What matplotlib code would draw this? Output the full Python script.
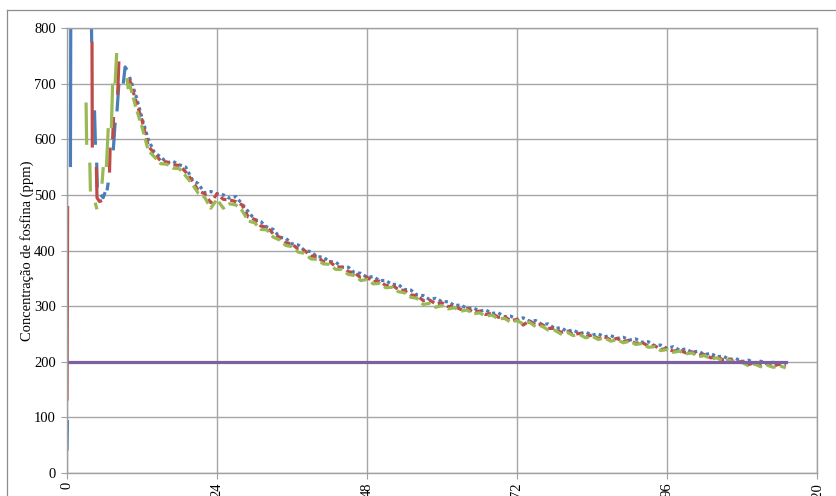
import numpy as np
import matplotlib
matplotlib.use('Agg')
import matplotlib.pyplot as plt
from matplotlib.lines import Line2D

nan = np.nan

# first hours (h, ppm) -- nan marks a break in the record
blue_early_t = [0.0, 0.08, nan, 0.55, 0.62, 3.8, 3.95, nan, 4.4, 4.55, nan, 4.75, 4.85, nan,
                5.4, 5.8, 6.1, nan, 6.4, 6.6, nan, 7.4, 7.7, nan, 8.0, 8.3, nan, 9.0, 9.3, 9.6]
blue_early = [40, 95, nan, 550, 900, 900, 774, nan, 652, 590, nan, 558, 513, nan,
              500, 495, 505, nan, 508, 522, nan, 580, 630, nan, 650, 700, nan, 700, 730, 725]

red_early_t = [0.0, 0.1, nan, 4.0, 4.05, nan, 4.7, 4.8, 5.2, 5.6, nan, 6.8, 6.9, nan,
               7.3, 7.45, nan, 8.1, 8.3]
red_early = [130, 480, nan, 775, 585, nan, 550, 495, 488, 490, nan, 540, 585, nan,
             600, 640, nan, 680, 740]

green_early_t = [3.05, 3.15, nan, 3.65, 3.75, nan, 4.5, 4.8, nan, 5.6, 5.8, nan, 6.3, 6.6, nan,
                 7.1, 7.3, nan, 7.7, 7.95, nan, 9.6, 9.8]
green_early = [666, 590, nan, 558, 506, nan, 486, 474, nan, 520, 550, nan, 550, 620, nan,
               620, 700, nan, 700, 755, nan, 710, 690]

# hourly readings from 10 h to 115 h
decay_t = list(range(10, 116))
blue_decay = [712, 680, 638, 600, 576, 568, 558, 560, 554, 550,
              528, 520, 504, 506, 502, 500, 494, 497, 484, 470,
              456, 452, 442, 438, 424, 422, 412, 410, 400, 398,
              389, 388, 380, 379, 370, 370, 360, 359, 352, 353,
              346, 346, 339, 339, 330, 329, 320, 319, 312, 314,
              308, 308, 301, 302, 296, 297, 291, 293, 287, 288,
              281, 282, 276, 279, 273, 274, 267, 268, 260, 261,
              255, 257, 251, 253, 248, 250, 245, 247, 242, 244,
              239, 241, 235, 236, 229, 230, 224, 227, 221, 223,
              217, 219, 213, 215, 209, 210, 204, 206, 200, 203,
              198, 201, 196, 199, 195, 198]
red_decay = [708, 670, 634, 588, 574, 561, 559, 554, 553, 541,
             526, 508, 502, 486, 502, 492, 491, 488, 482, 460,
             456, 444, 442, 430, 424, 414, 412, 402, 400, 390,
             389, 380, 380, 371, 370, 362, 360, 351, 352, 344,
             345, 337, 338, 330, 328, 320, 319, 310, 311, 304,
             306, 299, 300, 294, 296, 289, 291, 285, 287, 280,
             281, 274, 276, 266, 274, 266, 267, 260, 260, 253,
             255, 249, 251, 245, 248, 242, 245, 239, 242, 236,
             239, 233, 235, 228, 229, 222, 224, 219, 221, 216,
             218, 211, 213, 207, 209, 203, 205, 198, 201, 195,
             198, 193, 197, 192, 196, 192]
green_decay = [700, 658, 622, 580, 568, 556, 555, 548, 547, 534,
               520, 503, 496, 476, 492, 476, 484, 482, 472, 453,
               450, 438, 437, 424, 419, 409, 407, 397, 395, 385,
               384, 376, 375, 366, 366, 357, 355, 346, 348, 340,
               341, 333, 334, 326, 324, 316, 314, 303, 305, 298,
               301, 295, 297, 291, 293, 286, 288, 282, 284, 277,
               278, 271, 274, 268, 271, 263, 264, 257, 257, 250,
               253, 247, 249, 243, 246, 240, 243, 237, 240, 234,
               237, 231, 233, 226, 227, 220, 222, 217, 219, 214,
               216, 209, 211, 205, 207, 201, 203, 197, 199, 193,
               196, 191, 194, 190, 193, 189]

limit_t = [0, 115]
limit = [200, 200]

x_ticks = [0, 24, 48, 72, 96, 120]
y_ticks = [0, 100, 200, 300, 400, 500, 600, 700, 800]

BLUE = '#4A7EBB'
RED = '#BE4B48'
GREEN = '#98B954'
PURPLE = '#7D60A0'

plt.rcParams['font.family'] = ['Liberation Serif', 'DejaVu Serif']

W, H = 837, 496
fig = plt.figure(figsize=(W / 100, H / 100), dpi=100)
ax = fig.add_axes([67 / W, 1 - 473 / H, 750 / W, 445 / H])

# outer chart border (runs off the image on the right and bottom)
fig.add_artist(Line2D([7 / W, 1], [1 - 10 / H] * 2, transform=fig.transFigure,
                      color='#8c8c8c', lw=0.9))
fig.add_artist(Line2D([7 / W] * 2, [0, 1 - 10 / H], transform=fig.transFigure,
                      color='#8c8c8c', lw=0.9))

lw = 2.3
ax.plot(blue_early_t, blue_early, color=BLUE, lw=lw, solid_capstyle='butt')
ax.plot(decay_t, blue_decay, color=BLUE, lw=lw, linestyle=(0, (1, 1)))
ax.plot(red_early_t, red_early, color=RED, lw=lw, solid_capstyle='butt')
ax.plot(decay_t, red_decay, color=RED, lw=lw, linestyle=(0, (2, 1.2)))
ax.plot(green_early_t, green_early, color=GREEN, lw=lw, solid_capstyle='butt')
ax.plot(decay_t, green_decay, color=GREEN, lw=lw, linestyle=(0, (3, 1.5)))
ax.plot(limit_t, limit, color=PURPLE, lw=lw)

ax.set_xlim(0, 120)
ax.set_ylim(0, 800)
ax.set_xticks(x_ticks)
ax.set_yticks(y_ticks)
ax.grid(True, color='#a6a6a6', lw=1.0)
ax.set_axisbelow(True)
for s in ax.spines.values():
    s.set_color('#a0a0a0')
    s.set_linewidth(1.0)

ax.tick_params(axis='y', length=4, width=0.8, color='#a0a0a0', pad=4, labelsize=10.5)
ax.tick_params(axis='x', length=4, width=0.8, color='#a0a0a0', pad=2.5, labelsize=10.5,
               labelrotation=90)
ax.set_ylabel('Concentração de fosfina (ppm)', fontsize=10.5, labelpad=0)

fig.savefig('out.png', dpi=100)
